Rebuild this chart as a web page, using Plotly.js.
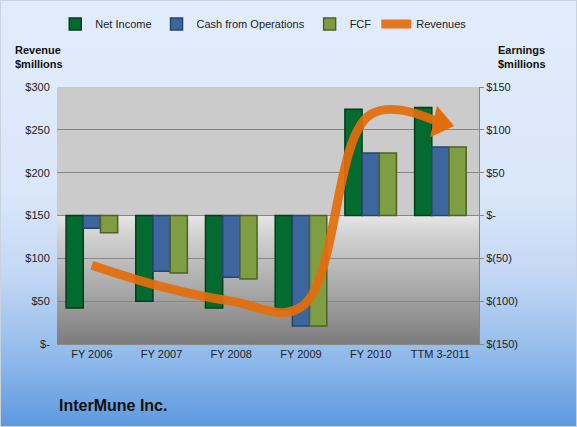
<!DOCTYPE html>
<html><head><meta charset="utf-8">
<script src="https://cdn.plot.ly/plotly-3.0.1.min.js"></script>
<style>
html,body{margin:0;padding:0;}
#chart{width:577px;height:427px;box-sizing:border-box;border:1px solid #c9d3e0;
background:linear-gradient(to bottom,#e1ecfb 0%,#dbe7fa 45%,#c2d7f4 65%,#8db8ea 85%,#5d99df 100%);}
</style></head>
<body><div id="chart"></div>
<script>
var categories = ["FY 2006","FY 2007","FY 2008","FY 2009","FY 2010","TTM 3-2011"];
var netIncome = [-108, -100, -108, -110, 124, 126];
var cashOps   = [-15, -65, -72, -129, 73, 80];
var fcf       = [-20, -67, -74, -129, 73, 80];
var revenues  = [92, 67, 50, 43, 268, 258];
var leftTickVals = [0,50,100,150,200,250,300];
var leftTickText = ["$-","$50","$100","$150","$200","$250","$300"];
var rightTickVals = [-150,-100,-50,0,50,100,150];
var rightTickText = ["$(150)","$(100)","$(50)","$-","$50","$100","$150"];

var font = "Liberation Sans, Arial, sans-serif";
var orange = "rgba(228,108,10,0.92)";

var traces = [
 {type:"bar",name:"Net Income",x:categories,y:netIncome,yaxis:"y",
  marker:{color:"#036b30",line:{color:"#013d1b",width:1.5}}},
 {type:"bar",name:"Cash from Operations",x:categories,y:cashOps,yaxis:"y",
  marker:{color:"#3c669d",line:{color:"#27456d",width:1.5}}},
 {type:"bar",name:"FCF",x:categories,y:fcf,yaxis:"y",
  marker:{color:"#7f9d43",line:{color:"#4e6227",width:1.5}}},
 {type:"scatter",mode:"lines",name:"Revenues",x:categories,y:revenues,yaxis:"y2",
  line:{color:orange,width:9,shape:"spline",smoothing:1.1}},
 {type:"scatter",mode:"markers",name:"Revenues",showlegend:false,
  x:categories.slice(-1),y:revenues.slice(-1),yaxis:"y2",cliponaxis:false,
  marker:{symbol:"triangle-right",angle:12,size:28,color:"rgb(228,108,10)",line:{width:0}}}
];

var bgSvg = '<svg xmlns="http://www.w3.org/2000/svg" width="10" height="100" preserveAspectRatio="none">'+
 '<defs><linearGradient id="g" x1="0" y1="0" x2="0" y2="1">'+
 '<stop offset="0" stop-color="#e6e6e6"/><stop offset="0.15" stop-color="#d2d2d2"/>'+
 '<stop offset="0.6" stop-color="#a6a6a6"/><stop offset="1" stop-color="#7c7c7c"/></linearGradient></defs>'+
 '<rect width="10" height="100" fill="url(#g)"/></svg>';

var layout = {
 width:577,height:427,
 margin:{l:56,r:99,t:86,b:84,autoexpand:false},
 paper_bgcolor:"rgba(0,0,0,0)",
 plot_bgcolor:"#cbcbcb",
 font:{family:font,size:11,color:"#222"},
 barmode:"group",bargap:0.26,bargroupgap:0,
 showlegend:true,
 legend:{orientation:"h",x:0.49,xanchor:"center",y:1.245,yanchor:"middle",
   bgcolor:"rgba(0,0,0,0)",font:{size:11,color:"#222"},itemwidth:30},
 xaxis:{type:"category",showgrid:false,showline:true,linecolor:"#888",linewidth:1,
   ticks:"",tickfont:{size:11,color:"#222"}},
 yaxis:{side:"right",range:[-150,150],tickvals:rightTickVals,ticktext:rightTickText,
   showgrid:true,gridcolor:"#878787",gridwidth:1,zeroline:true,zerolinecolor:"#878787",zerolinewidth:1,
   showline:true,linecolor:"#888",ticks:"outside",ticklen:4,tickcolor:"#888",
   tickfont:{size:11,color:"#222"},fixedrange:true},
 yaxis2:{side:"left",overlaying:"y",range:[0,300],tickvals:leftTickVals,ticktext:leftTickText,
   showgrid:false,zeroline:false,showline:false,ticks:"outside",ticklen:4,tickcolor:"rgba(0,0,0,0)",
   tickfont:{size:11,color:"#222"}},
 images:[{source:"data:image/svg+xml;charset=utf-8,"+encodeURIComponent(bgSvg),
   xref:"paper",yref:"y",x:0,y:0,sizex:1,sizey:150,sizing:"stretch",layer:"below",xanchor:"left",yanchor:"top"}],
 annotations:[
  {text:"<b>Revenue<br>$millions</b>",xref:"paper",yref:"paper",x:-0.105,y:1.115,xanchor:"left",yanchor:"middle",
   showarrow:false,align:"left",font:{size:11,color:"#111"}},
  {text:"<b>Earnings<br>$millions</b>",xref:"paper",yref:"paper",x:1.04,y:1.115,xanchor:"left",yanchor:"middle",
   showarrow:false,align:"left",font:{size:11,color:"#111"}},
  {text:"<b>InterMune Inc.</b>",xref:"paper",yref:"paper",x:0,y:-0.24,xanchor:"left",yanchor:"middle",
   showarrow:false,font:{size:16,color:"#111"}}
 ]
};
Plotly.newPlot("chart",traces,layout,{displayModeBar:false,staticPlot:true});
</script></body></html>
